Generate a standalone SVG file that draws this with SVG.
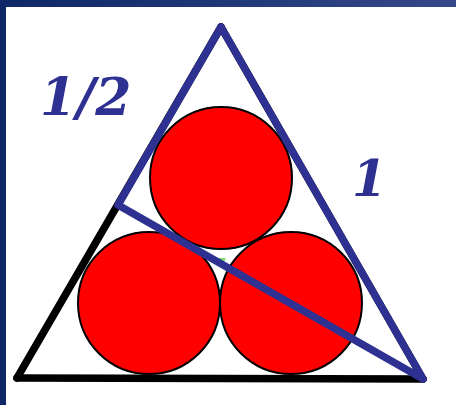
<svg xmlns="http://www.w3.org/2000/svg" width="456" height="405" viewBox="0 0 456 405">
<defs>
<linearGradient id="bg" x1="0" y1="0" x2="1" y2="0">
<stop offset="0" stop-color="#0e2766"/>
<stop offset="1" stop-color="#34498a"/>
</linearGradient>
<style>
.blk{stroke:#000;stroke-width:7.5;stroke-linecap:round;fill:none}
.blu{stroke:#2e3192;stroke-width:7.5;stroke-linecap:round;stroke-linejoin:round;fill:none}
.c{fill:#ff0000;stroke:#000;stroke-width:2}
.t{font-family:"DejaVu Serif",serif;font-weight:bold;font-style:italic;fill:#2e3192}
</style>
</defs>
<rect width="456" height="405" fill="url(#bg)"/>
<rect x="6" y="7" width="450" height="398" fill="#fff"/>
<g id="circles">
<polygon points="214,258 226,258 222,266" fill="#7ee06a"/>
<circle id="c-top" class="c" cx="221" cy="178" r="71"/>
<circle id="c-left" class="c" cx="149" cy="303" r="71"/>
<circle id="c-right" class="c" cx="291" cy="303" r="71"/>
</g>
<g id="connectors">
<line class="blk" x1="17" y1="378" x2="221" y2="27"/>
<line class="blk" x1="17" y1="378" x2="423" y2="379"/>
<line class="blk" x1="221" y1="27" x2="423" y2="379"/>
<polyline class="blu" points="423,379 118,205 221,27 423,379"/>
</g>
<g id="labels">
<text class="t" x="40" y="115" font-size="52">1/2</text>
<text class="t" x="352" y="196" font-size="50">1</text>
</g>
</svg>
